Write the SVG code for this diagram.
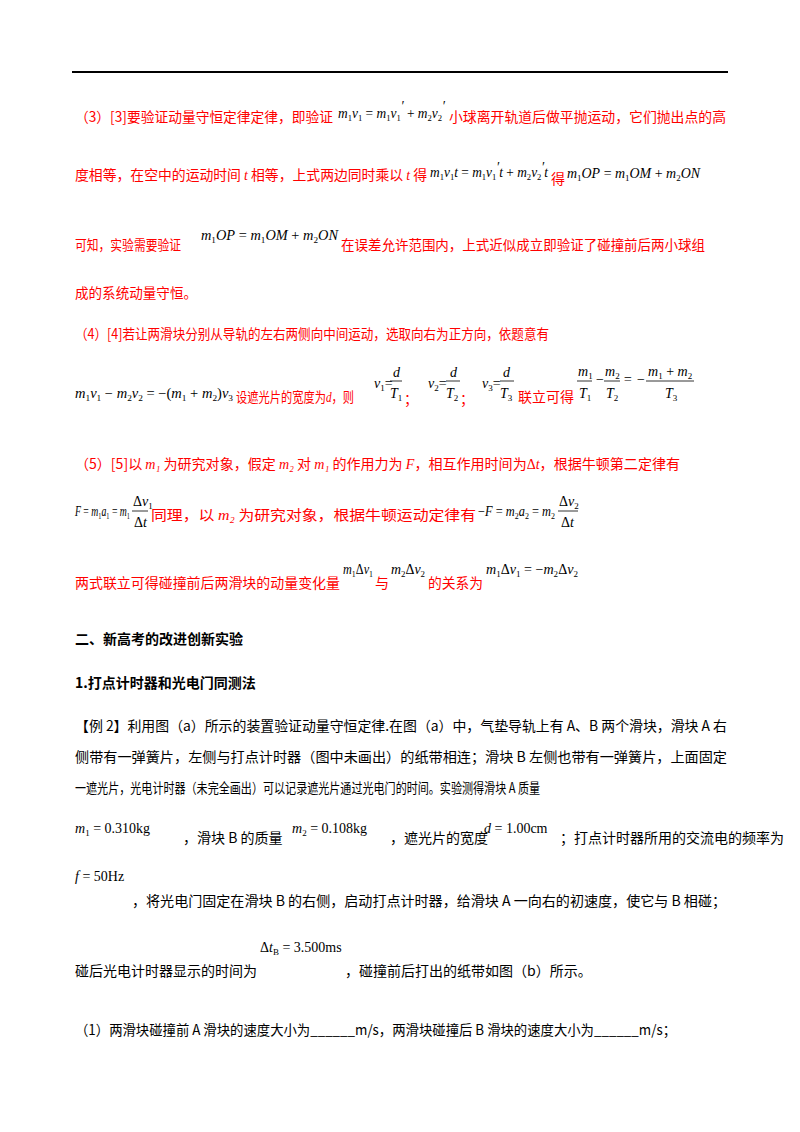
<svg xmlns="http://www.w3.org/2000/svg" width="800" height="1132" viewBox="0 0 800 1132">
<style>
.r{fill:#ff0000;font-family:"Noto Sans CJK SC","Noto Sans",sans-serif;font-size:14px}
.k{fill:#000;font-family:"Noto Sans CJK SC","Noto Sans",sans-serif;font-size:14px}
.b{font-weight:bold}
.m{fill:#000;font-family:"Liberation Serif",serif;font-style:italic;font-size:14px}
.s{font-size:9px;font-style:normal}
.n{font-style:normal}
.f{stroke:#000;stroke-width:0.8}
</style>
<rect width="800" height="1132" fill="#fff"/>
<line x1="72" y1="72" x2="728" y2="72" stroke="#000" stroke-width="2"/>
<text class="r" x="75" y="122" textLength="258" lengthAdjust="spacingAndGlyphs">（3）[3]要验证动量守恒定律定律，即验证</text>
<text class="m" x="338" y="118" textLength="107" lengthAdjust="spacingAndGlyphs">m<tspan class="s" dy="3">1</tspan><tspan dy="-3">v</tspan><tspan class="s" dy="3">1</tspan><tspan class="n" dy="-3"> = </tspan>m<tspan class="s" dy="3">1</tspan><tspan dy="-3">v</tspan><tspan class="s" dy="3">1</tspan><tspan dy="-10">′</tspan><tspan class="n" dy="7"> + </tspan>m<tspan class="s" dy="3">2</tspan><tspan dy="-3">v</tspan><tspan class="s" dy="3">2</tspan><tspan dy="-10">′</tspan></text>
<text class="r" x="449" y="122" textLength="277" lengthAdjust="spacingAndGlyphs">小球离开轨道后做平抛运动，它们抛出点的高</text>
<text class="r" x="75" y="180" textLength="352" lengthAdjust="spacingAndGlyphs">度相等，在空中的运动时间 <tspan font-style="italic" font-family="Liberation Serif">t</tspan> 相等，上式两边同时乘以 <tspan font-style="italic" font-family="Liberation Serif">t</tspan> 得</text>
<text class="m" x="430" y="177" textLength="118" lengthAdjust="spacingAndGlyphs">m<tspan class="s" dy="3">1</tspan><tspan dy="-3">v</tspan><tspan class="s" dy="3">1</tspan><tspan dy="-3">t</tspan><tspan class="n"> = </tspan>m<tspan class="s" dy="3">1</tspan><tspan dy="-3">v</tspan><tspan class="s" dy="3">1</tspan><tspan dy="-8">′</tspan><tspan dy="5">t</tspan><tspan class="n"> + </tspan>m<tspan class="s" dy="3">2</tspan><tspan dy="-3">v</tspan><tspan class="s" dy="3">2</tspan><tspan dy="-8">′</tspan><tspan dy="5">t</tspan></text>
<text class="r" x="551" y="184">得</text>
<text class="m" x="567" y="178" textLength="133" lengthAdjust="spacingAndGlyphs">m<tspan class="s" dy="3">1</tspan><tspan dy="-3">OP</tspan><tspan class="n"> = </tspan>m<tspan class="s" dy="3">1</tspan><tspan dy="-3">OM</tspan><tspan class="n"> + </tspan>m<tspan class="s" dy="3">2</tspan><tspan dy="-3">ON</tspan></text>
<text class="r" x="75" y="250" textLength="106" lengthAdjust="spacingAndGlyphs">可知，实验需要验证</text>
<text class="m" x="201" y="240" textLength="137" lengthAdjust="spacingAndGlyphs">m<tspan class="s" dy="3">1</tspan><tspan dy="-3">OP</tspan><tspan class="n"> = </tspan>m<tspan class="s" dy="3">1</tspan><tspan dy="-3">OM</tspan><tspan class="n"> + </tspan>m<tspan class="s" dy="3">2</tspan><tspan dy="-3">ON</tspan></text>
<text class="r" x="341" y="250" textLength="364" lengthAdjust="spacingAndGlyphs">在误差允许范围内，上式近似成立即验证了碰撞前后两小球组</text>
<text class="r" x="75" y="298" textLength="122" lengthAdjust="spacingAndGlyphs">成的系统动量守恒。</text>
<text class="r" x="75" y="339" textLength="474" lengthAdjust="spacingAndGlyphs">（4）[4]若让两滑块分别从导轨的左右两侧向中间运动，选取向右为正方向，依题意有</text>
<text class="m" x="75" y="398" textLength="158" lengthAdjust="spacingAndGlyphs">m<tspan class="s" dy="3">1</tspan><tspan dy="-3">v</tspan><tspan class="s" dy="3">1</tspan><tspan class="n" dy="-3"> − </tspan>m<tspan class="s" dy="3">2</tspan><tspan dy="-3">v</tspan><tspan class="s" dy="3">2</tspan><tspan class="n" dy="-3"> = −(</tspan>m<tspan class="s" dy="3">1</tspan><tspan class="n" dy="-3"> + </tspan>m<tspan class="s" dy="3">2</tspan><tspan class="n" dy="-3">)</tspan>v<tspan class="s" dy="3">3</tspan></text>
<text class="r" x="236" y="402" textLength="118" lengthAdjust="spacingAndGlyphs">设遮光片的宽度为<tspan font-style="italic" font-family="Liberation Serif">d</tspan>，则</text>
<text class="m" x="374" y="388">v<tspan class="s" dy="3">1</tspan><tspan class="n" dy="-3">=</tspan></text>
<text class="m" x="393" y="377">d</text><line class="f" x1="390" y1="381" x2="402" y2="381"/><text class="m" x="390" y="398">T<tspan class="s" dy="3">1</tspan></text>
<text class="r" x="404" y="404">；</text>
<text class="m" x="428" y="388">v<tspan class="s" dy="3">2</tspan><tspan class="n" dy="-3">=</tspan></text>
<text class="m" x="450" y="377">d</text><line class="f" x1="446" y1="381" x2="460" y2="381"/><text class="m" x="446" y="398">T<tspan class="s" dy="3">2</tspan></text>
<text class="r" x="460" y="404">；</text>
<text class="m" x="482" y="388">v<tspan class="s" dy="3">3</tspan><tspan class="n" dy="-3">=</tspan></text>
<text class="m" x="503" y="377">d</text><line class="f" x1="500" y1="381" x2="514" y2="381"/><text class="m" x="500" y="398">T<tspan class="s" dy="3">3</tspan></text>
<text class="r" x="518" y="402">联立可得</text>
<text class="m" x="578" y="376">m<tspan class="s" dy="3">1</tspan></text><line class="f" x1="577" y1="381" x2="592" y2="381"/><text class="m" x="579" y="398">T<tspan class="s" dy="3">1</tspan></text>
<text class="m" x="595" y="384" font-style="normal">−</text>
<text class="m" x="605" y="376">m<tspan class="s" dy="3">2</tspan></text><line class="f" x1="604" y1="381" x2="620" y2="381"/><text class="m" x="606" y="398">T<tspan class="s" dy="3">2</tspan></text>
<text class="m" x="623" y="384" font-style="normal">= −</text>
<text class="m" x="648" y="376">m<tspan class="s" dy="3">1</tspan><tspan class="n" dy="-3"> + </tspan>m<tspan class="s" dy="3">2</tspan></text><line class="f" x1="646" y1="381" x2="694" y2="381"/><text class="m" x="665" y="398">T<tspan class="s" dy="3">3</tspan></text>
<text class="r" x="75" y="469" textLength="605" lengthAdjust="spacingAndGlyphs">（5）[5]以 <tspan font-style="italic" font-family="Liberation Serif">m₁</tspan> 为研究对象，假定 <tspan font-style="italic" font-family="Liberation Serif">m₂</tspan> 对 <tspan font-style="italic" font-family="Liberation Serif">m₁</tspan> 的作用力为 <tspan font-style="italic" font-family="Liberation Serif">F</tspan>，相互作用时间为<tspan font-family="Liberation Serif">Δ<tspan font-style="italic">t</tspan></tspan>，根据牛顿第二定律有</text>
<text class="m" x="75" y="516" textLength="55" lengthAdjust="spacingAndGlyphs">F<tspan class="n"> = </tspan>m<tspan class="s" dy="3">1</tspan><tspan dy="-3">a</tspan><tspan class="s" dy="3">1</tspan><tspan class="n" dy="-3"> = </tspan>m<tspan class="s" dy="3">1</tspan></text>
<text class="m" x="133" y="506"><tspan class="n">Δ</tspan>v<tspan class="s" dy="3">1</tspan></text><line class="f" x1="132" y1="511" x2="148" y2="511"/><text class="m" x="134" y="527"><tspan class="n">Δ</tspan>t</text>
<text class="r" x="151" y="520" textLength="325" lengthAdjust="spacingAndGlyphs">同理，以 <tspan font-style="italic" font-family="Liberation Serif">m₂</tspan> 为研究对象，根据牛顿运动定律有</text>
<text class="m" x="478" y="516" textLength="77" lengthAdjust="spacingAndGlyphs"><tspan class="n">−</tspan>F<tspan class="n"> = </tspan>m<tspan class="s" dy="3">2</tspan><tspan dy="-3">a</tspan><tspan class="s" dy="3">2</tspan><tspan class="n" dy="-3"> = </tspan>m<tspan class="s" dy="3">2</tspan></text>
<text class="m" x="559" y="506"><tspan class="n">Δ</tspan>v<tspan class="s" dy="3">2</tspan></text><line class="f" x1="558" y1="511" x2="578" y2="511"/><text class="m" x="561" y="527"><tspan class="n">Δ</tspan>t</text>
<text class="r" x="75" y="588" textLength="265" lengthAdjust="spacingAndGlyphs">两式联立可得碰撞前后两滑块的动量变化量</text>
<text class="m" x="343" y="574" textLength="30" lengthAdjust="spacingAndGlyphs">m<tspan class="s" dy="3">1</tspan><tspan class="n" dy="-3">Δ</tspan>v<tspan class="s" dy="3">1</tspan></text>
<text class="r" x="375" y="588">与</text>
<text class="m" x="391" y="574" textLength="34" lengthAdjust="spacingAndGlyphs">m<tspan class="s" dy="3">2</tspan><tspan class="n" dy="-3">Δ</tspan>v<tspan class="s" dy="3">2</tspan></text>
<text class="r" x="428" y="588" textLength="55" lengthAdjust="spacingAndGlyphs">的关系为</text>
<text class="m" x="486" y="574" textLength="92" lengthAdjust="spacingAndGlyphs">m<tspan class="s" dy="3">1</tspan><tspan class="n" dy="-3">Δ</tspan>v<tspan class="s" dy="3">1</tspan><tspan class="n" dy="-3"> = −</tspan>m<tspan class="s" dy="3">2</tspan><tspan class="n" dy="-3">Δ</tspan>v<tspan class="s" dy="3">2</tspan></text>
<text class="k b" x="75" y="644">二、新高考的改进创新实验</text>
<text class="k b" x="75" y="688">1.打点计时器和光电门同测法</text>
<text class="k" x="75" y="731" textLength="652" lengthAdjust="spacingAndGlyphs">【例 2】利用图（a）所示的装置验证动量守恒定律.在图（a）中，气垫导轨上有 A、B 两个滑块，滑块 A 右</text>
<text class="k" x="75" y="762" textLength="652" lengthAdjust="spacingAndGlyphs">侧带有一弹簧片，左侧与打点计时器（图中未画出）的纸带相连；滑块 B 左侧也带有一弹簧片，上面固定</text>
<text class="k" x="75" y="793" textLength="465" lengthAdjust="spacingAndGlyphs">一遮光片，光电计时器（未完全画出）可以记录遮光片通过光电门的时间。实验测得滑块 A 质量</text>
<text class="m" x="75" y="833">m<tspan class="s" dy="3">1</tspan><tspan class="n" dy="-3"> = 0.310kg</tspan></text>
<text class="k" x="183" y="843">，滑块 B 的质量</text>
<text class="m" x="292" y="833">m<tspan class="s" dy="3">2</tspan><tspan class="n" dy="-3"> = 0.108kg</tspan></text>
<text class="k" x="390" y="843">，遮光片的宽度</text>
<text class="m" x="484" y="833">d<tspan class="n"> = 1.00cm</tspan></text>
<text class="k" x="560" y="843">；打点计时器所用的交流电的频率为</text>
<text class="m" x="75" y="881">f<tspan class="n"> = 50Hz</tspan></text>
<text class="k" x="132" y="906" textLength="594" lengthAdjust="spacingAndGlyphs">，将光电门固定在滑块 B 的右侧，启动打点计时器，给滑块 A 一向右的初速度，使它与 B 相碰；</text>
<text class="k" x="75" y="976">碰后光电计时器显示的时间为</text>
<text class="m" x="260" y="952"><tspan class="n">Δ</tspan>t<tspan class="s" dy="3">B</tspan><tspan class="n" dy="-3"> = 3.500ms</tspan></text>
<text class="k" x="345" y="976">，碰撞前后打出的纸带如图（b）所示。</text>
<text class="k" x="75" y="1035" textLength="601" lengthAdjust="spacingAndGlyphs">（1）两滑块碰撞前 A 滑块的速度大小为______m/s，两滑块碰撞后 B 滑块的速度大小为______m/s；</text>
</svg>
